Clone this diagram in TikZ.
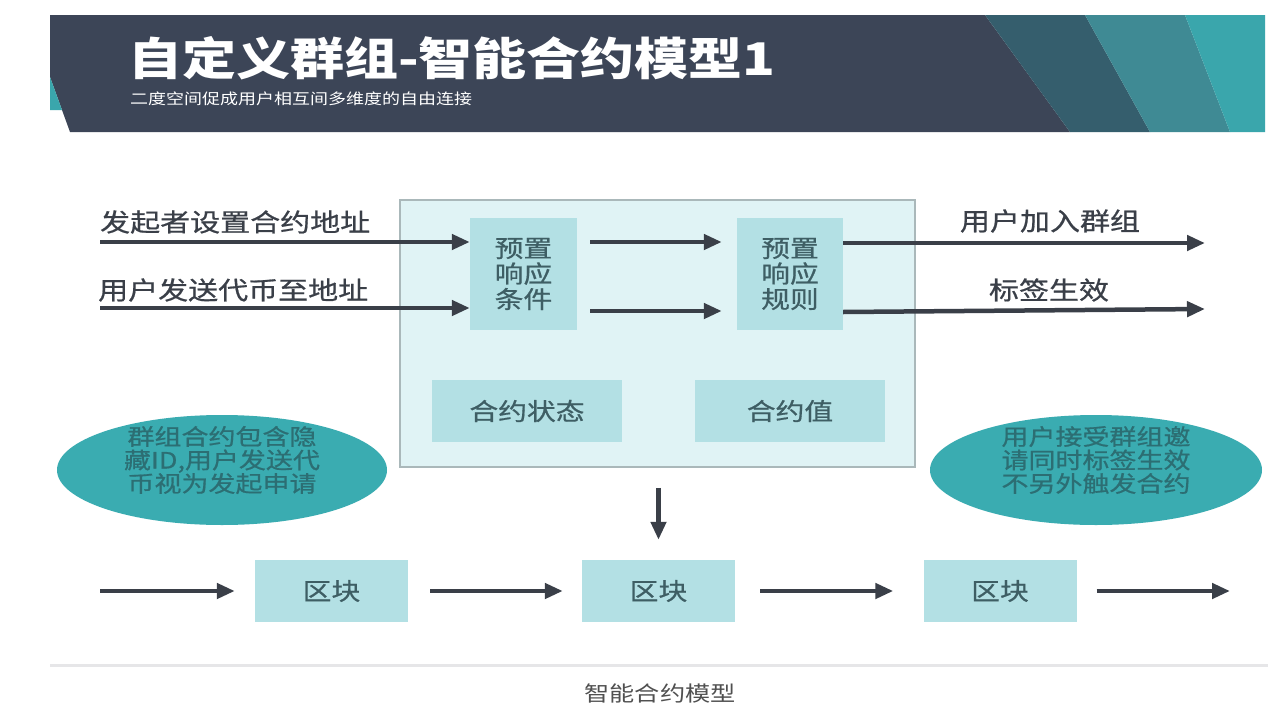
\documentclass[tikz,border=0pt]{standalone}
\usepackage{fontspec}
\setmainfont{Noto Sans CJK SC}[FakeStretch=1.2]
\newfontfamily\cjkmed{Noto Sans CJK SC}[FakeStretch=1.2,FakeBold=0.7]
\usetikzlibrary{arrows.meta,shapes.geometric}
\definecolor{hdark}{HTML}{3C4557}
\definecolor{hteal}{HTML}{3AA6AC}
\definecolor{hmid}{HTML}{355E6D}
\definecolor{hlite}{HTML}{3F8A94}
\definecolor{boxbg}{HTML}{E0F3F5}
\definecolor{boxline}{HTML}{AAB8BA}
\definecolor{boxin}{HTML}{B3E0E4}
\definecolor{arrowc}{HTML}{3A3F48}
\definecolor{ovalc}{HTML}{3AACB1}
\definecolor{ovaltxt}{HTML}{2C6E73}
\definecolor{boxtxt}{HTML}{3E5E64}
\definecolor{rulec}{HTML}{E6E6E8}
\definecolor{captc}{HTML}{505050}
\newcommand{\fsz}[2]{\fontsize{#1}{#2}\selectfont}
\begin{document}
\begin{tikzpicture}[x=1pt,y=-1pt,
  flow/.style={line width=4.5pt,draw=arrowc,-{Triangle[length=18pt,width=15pt]}},
  inbox/.style={fill=boxin,text=boxtxt,inner sep=0pt,align=center,font=\cjkmed\fsz{24}{25.5}},
  oval/.style={ellipse,fill=ovalc,inner sep=0pt,minimum width=330pt,minimum height=110pt},
  ovaltext/.style={text=ovaltxt,inner sep=0pt,align=center,font=\cjkmed\fsz{22.5}{23.5}},
  lbl/.style={text=arrowc,inner sep=0pt,font=\cjkmed\fsz{25}{28}}]
  \useasboundingbox[fill=white] (0,0) rectangle (1280,720);
  % header band
  \fill[hdark] (50,15) -- (985,15) -- (1070,132) -- (70,132) -- (50,77) -- cycle;
  \fill[hteal] (50,77) -- (62,110) -- (50,110) -- cycle;
  \fill[hmid] (985,15) -- (1085,15) -- (1150,132) -- (1070,132) -- cycle;
  \fill[hlite] (1085,15) -- (1185,15) -- (1230,132) -- (1150,132) -- cycle;
  \fill[hteal] (1185,15) -- (1265,15) -- (1265,132) -- (1230,132) -- cycle;
  \node[anchor=west,text=white,inner sep=0pt,font=\fsz{45}{50}\bfseries] (title) at (128,58) {自定义群组-智能合约模型1};
  \node[anchor=west,text=white,inner sep=0pt,font=\fsz{15}{16}] (subtitle) at (130,99) {二度空间促成用户相互间多维度的自由连接};
  % contract box
  \node[draw=boxline,line width=1.5pt,fill=boxbg,minimum width=515pt,minimum height=267pt] (main) at (657.5,333.5) {};
  \node[inbox,minimum width=107pt,minimum height=112pt] (cond) at (523.5,274) {预置\\响应\\条件};
  \node[inbox,minimum width=106pt,minimum height=112pt] (rule) at (790,274) {预置\\响应\\规则};
  \node[inbox,minimum width=190pt,minimum height=62pt] (state) at (527,411) {合约状态};
  \node[inbox,minimum width=190pt,minimum height=62pt] (value) at (790,411) {合约值};
  % inputs and outputs
  \coordinate (in1) at (100,242);
  \coordinate (in2) at (100,308);
  \coordinate (out1) at (1205,243);
  \coordinate (out2) at (1205,309);
  \node[lbl,anchor=west] (l1) at (100,222) {发起者设置合约地址};
  \node[lbl,anchor=west] (l2) at (98,290) {用户发送代币至地址};
  \node[lbl] (l3) at (1050,221) {用户加入群组};
  \node[lbl] (l4) at (1049,290) {标签生效};
  \draw[flow] (in1) -- (cond.west |- in1);
  \draw[flow] (in2) -- (cond.west |- in2);
  \draw[flow,shorten <=13pt,shorten >=15pt] (cond.east |- in1) -- (rule.west |- in1);
  \draw[flow,shorten <=13pt,shorten >=15pt] (cond.east |- 0,311) -- (rule.west |- 0,311);
  \draw[flow] (rule.east |- out1) -- (out1);
  \draw[flow] (rule.east |- 0,312) -- (out2);
  % notes
  \node[oval] (note1) at (222,470) {};
  \node[ovaltext] (note1txt) at (222,460) {群组合约包含隐\\藏ID,用户发送代\\币视为发起申请};
  \node[oval,minimum width=332pt] (note2) at (1096,470) {};
  \node[ovaltext] (note2txt) at (1096,460) {用户接受群组邀\\请同时标签生效\\不另外触发合约};
  % chain of blocks
  \foreach \bx/\bn in {331.5/blk1,658.5/blk2,1000/blk3}
    \node[inbox,minimum width=153pt,minimum height=62pt] (\bn) at (\bx,591) {区块};
  \coordinate (cin) at (100,591);
  \coordinate (cout) at (1230,591);
  \draw[flow,shorten <=20pt,shorten >=20pt] (blk2.north |- main.south) -- (blk2.north);
  \draw[flow,shorten >=20pt] (cin) -- (blk1.west);
  \draw[flow,shorten <=22pt,shorten >=19pt] (blk1.east) -- (blk2.west);
  \draw[flow,shorten <=25pt,shorten >=30pt] (blk2.east) -- (blk3.west);
  \draw[flow,shorten <=20pt] (blk3.east) -- (cout);
  % caption
  \draw[line width=3pt,rulec] (50,665) -- (1268,665);
  \node[text=captc,inner sep=0pt,font=\fsz{21}{22}] (caption) at (660,693) {智能合约模型};
\end{tikzpicture}
\end{document}
